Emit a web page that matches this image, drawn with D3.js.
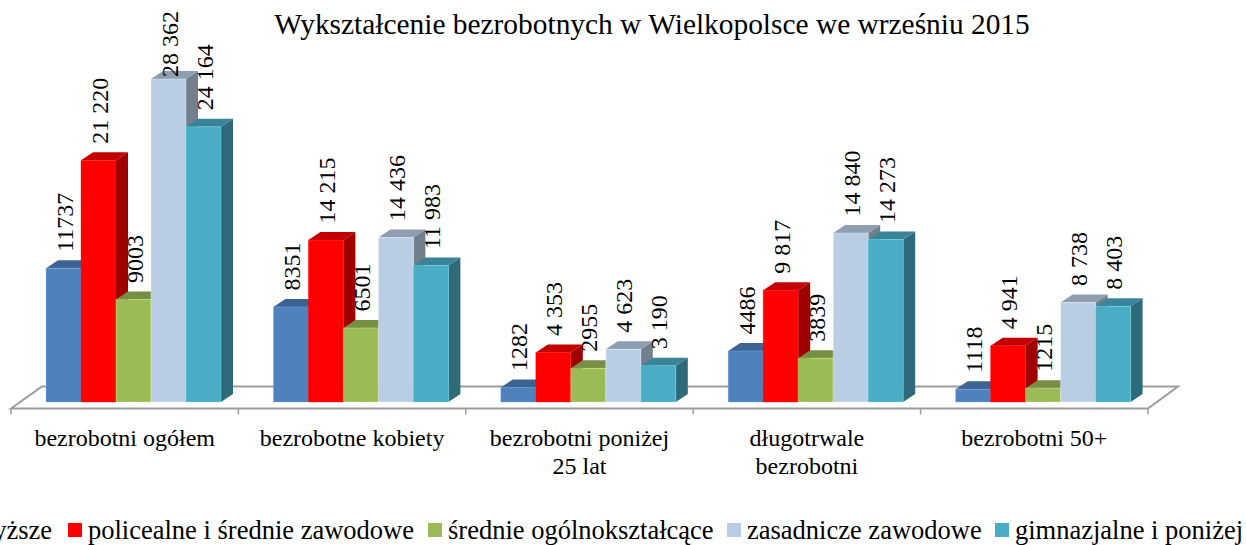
<!DOCTYPE html>
<html>
<head>
<meta charset="utf-8">
<script src="https://cdn.jsdelivr.net/npm/d3@7"></script>
<style>
  html, body { margin: 0; padding: 0; background: #fff; overflow: hidden; }
  text { font-family: "Liberation Serif", serif; fill: #000; }
</style>
</head>
<body>
<div id="chart"></div>
<script>
const title = "Wykształcenie bezrobotnych w Wielkopolsce we wrześniu 2015";
const categories = [
  ["bezrobotni ogółem"],
  ["bezrobotne kobiety"],
  ["bezrobotni poniżej", "25 lat"],
  ["długotrwale", "bezrobotni"],
  ["bezrobotni 50+"]
];
const seriesNames = ["wyższe", "policealne i średnie zawodowe", "średnie ogólnokształcące", "zasadnicze zawodowe", "gimnazjalne i poniżej"];
const seriesColors = ["#4f81bd", "#ff0000", "#9bbb59", "#b9cde5", "#4bacc6"];
const wyzsze = [11737, 8351, 1282, 4486, 1118];
const policealne = [21220, 14215, 4353, 9817, 4941];
const ogolne = [9003, 6501, 2955, 3839, 1215];
const zasadnicze = [28362, 14436, 4623, 14840, 8738];
const gimnazjalne = [24164, 11983, 3190, 14273, 8403];
const wyzszeLabels = ["11737", "8351", "1282", "4486", "1118"];
const policealneLabels = ["21 220", "14 215", "4 353", "9 817", "4 941"];
const ogolneLabels = ["9003", "6501", "2955", "3839", "1215"];
const zasadniczeLabels = ["28 362", "14 436", "4 623", "14 840", "8 738"];
const gimnazjalneLabels = ["24 164", "11 983", "3 190", "14 273", "8 403"];

const allValues = [wyzsze, policealne, ogolne, zasadnicze, gimnazjalne];
const allLabels = [wyzszeLabels, policealneLabels, ogolneLabels, zasadniczeLabels, gimnazjalneLabels];

const width = 1246, height = 545;
const depthX = 12, depthY = 8;          // fake 3d offset of the bars
const floorX = 31, floorY = 22;         // fake 3d offset of the floor
const floorFront = 408.5, barBase = 402;
const labelLift = 16.5, labelMaxY = 77; // tallest label gets pushed down onto its bar

const svg = d3.select("#chart").append("svg")
  .attr("width", width)
  .attr("height", height);

const x0 = d3.scaleBand().domain(d3.range(categories.length)).range([11, 1148]);
const x1 = d3.scaleBand().domain(d3.range(seriesNames.length)).range([35, 210]);
const y = d3.scaleLinear().domain([0, 28362]).range([barBase, 79]);

svg.append("text")
  .attr("x", 652)
  .attr("y", 34)
  .attr("text-anchor", "middle")
  .attr("font-size", 29.4)
  .text(title);

// floor
const [fx0, fx1] = x0.range();
svg.append("polygon")
  .attr("points", [[fx0, floorFront], [fx0 + floorX, floorFront - floorY], [fx1 + floorX - 1, floorFront - floorY], [fx1, floorFront]].join(" "))
  .attr("fill", "#fff")
  .attr("stroke", "#9c9c9c")
  .attr("stroke-width", 2);

svg.selectAll(".tick-mark")
  .data(d3.range(categories.length + 1))
  .join("line")
  .attr("class", "tick-mark")
  .attr("x1", d => fx0 + d * x0.step())
  .attr("x2", d => fx0 + d * x0.step())
  .attr("y1", floorFront)
  .attr("y2", floorFront + 6)
  .attr("stroke", "#9c9c9c")
  .attr("stroke-width", 1.5);

// bars, left to right so each one covers the side of the previous one
categories.forEach((cat, c) => {
  seriesNames.forEach((name, s) => {
    const v = allValues[s][c];
    const left = x0(c) + x1(s), w = x1.bandwidth(), top = y(v);
    const color = d3.color(seriesColors[s]);
    const g = svg.append("g").attr("class", "bar");
    g.append("polygon")
      .attr("points", [[left + w, top], [left + w + depthX, top - depthY], [left + w + depthX, barBase - depthY], [left + w, barBase]].join(" "))
      .attr("fill", color.darker(1.35));
    g.append("polygon")
      .attr("points", [[left, top], [left + depthX, top - depthY], [left + w + depthX, top - depthY], [left + w, top]].join(" "))
      .attr("fill", color.darker(0.75));
    g.append("rect")
      .attr("x", left)
      .attr("y", top)
      .attr("width", w)
      .attr("height", barBase - top)
      .attr("fill", color)
      .attr("stroke", color.brighter(1))
      .attr("stroke-opacity", 0.35)
      .attr("stroke-width", 1);
  });
});

// value labels go on top of all the bars
categories.forEach((cat, c) => {
  seriesNames.forEach((name, s) => {
    const lx = x0(c) + x1(s) + x1.bandwidth() / 2 + 9;
    const ly = Math.max(y(allValues[s][c]) - labelLift, labelMaxY);
    svg.append("text")
      .attr("transform", `translate(${lx},${ly}) rotate(-90)`)
      .attr("font-size", 24)
      .text(allLabels[s][c]);
  });
});

// category labels
categories.forEach((cat, c) => {
  const t = svg.append("text")
    .attr("text-anchor", "middle")
    .attr("font-size", 24);
  cat.forEach((line, i) => {
    t.append("tspan")
      .attr("x", x0(c) + x0.bandwidth() / 2)
      .attr("y", 446 + i * 27.5)
      .text(line);
  });
});

// legend, runs off the left edge like the original
const legendSwatchX = [-46, 68, 428, 727, 995];
seriesNames.forEach((name, s) => {
  svg.append("rect")
    .attr("x", legendSwatchX[s])
    .attr("y", 523)
    .attr("width", 14)
    .attr("height", 14)
    .attr("fill", seriesColors[s]);
  svg.append("text")
    .attr("x", legendSwatchX[s] + 20)
    .attr("y", 539)
    .attr("font-size", 26.5)
    .text(name);
});
</script>
</body>
</html>
